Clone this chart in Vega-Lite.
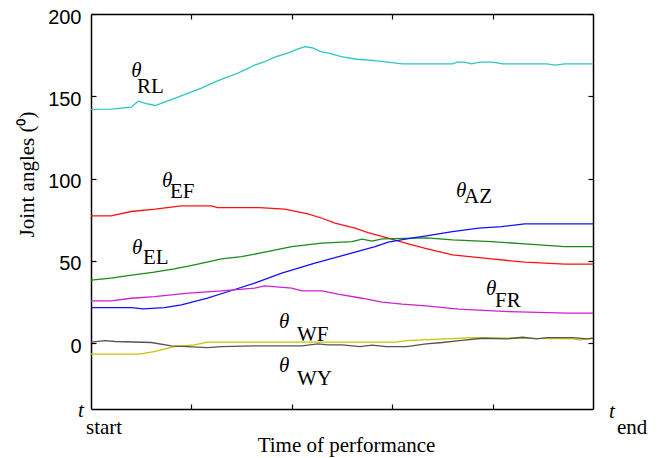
{
  "$schema": "https://vega.github.io/schema/vega-lite/v6.json",
  "width": 502,
  "height": 395,
  "autosize": "none",
  "padding": {"left": 91, "top": 14, "right": 69, "bottom": 49},
  "background": "white",
  "config": {
    "view": {"stroke": null},
    "axis": {"grid": false, "domainColor": "black", "domainWidth": 1.5, "tickColor": "black", "tickWidth": 1.2, "tickSize": -5}
  },
  "datasets": {
    "lines": [
      {"s": "RL", "x": 0, "y": 142}, {"s": "RL", "x": 0.2, "y": 142.2}, {"s": "RL", "x": 0.4, "y": 143.4}, {"s": "RL", "x": 0.47, "y": 147}, {"s": "RL", "x": 0.55, "y": 145.5}, {"s": "RL", "x": 0.64, "y": 144.4}, {"s": "RL", "x": 0.8, "y": 148}, {"s": "RL", "x": 0.97, "y": 151.9}, {"s": "RL", "x": 1.1, "y": 155}, {"s": "RL", "x": 1.23, "y": 158.6}, {"s": "RL", "x": 1.35, "y": 161.5}, {"s": "RL", "x": 1.46, "y": 164}, {"s": "RL", "x": 1.55, "y": 166.5}, {"s": "RL", "x": 1.63, "y": 169}, {"s": "RL", "x": 1.73, "y": 171}, {"s": "RL", "x": 1.83, "y": 173.8}, {"s": "RL", "x": 1.96, "y": 176.2}, {"s": "RL", "x": 2.05, "y": 178.5}, {"s": "RL", "x": 2.13, "y": 180.2}, {"s": "RL", "x": 2.2, "y": 179.5}, {"s": "RL", "x": 2.29, "y": 177.2}, {"s": "RL", "x": 2.4, "y": 175.8}, {"s": "RL", "x": 2.49, "y": 174.1}, {"s": "RL", "x": 2.65, "y": 172.5}, {"s": "RL", "x": 2.8, "y": 171.8}, {"s": "RL", "x": 2.91, "y": 171.1}, {"s": "RL", "x": 3.1, "y": 169.7}, {"s": "RL", "x": 3.6, "y": 169.7}, {"s": "RL", "x": 3.65, "y": 170.7}, {"s": "RL", "x": 3.72, "y": 170.7}, {"s": "RL", "x": 3.79, "y": 169.7}, {"s": "RL", "x": 3.87, "y": 170.7}, {"s": "RL", "x": 4.0, "y": 170.7}, {"s": "RL", "x": 4.1, "y": 169.7}, {"s": "RL", "x": 4.54, "y": 169.7}, {"s": "RL", "x": 4.62, "y": 168.9}, {"s": "RL", "x": 4.72, "y": 169.7}, {"s": "RL", "x": 5, "y": 169.7},
      {"s": "EF", "x": 0, "y": 77.3}, {"s": "EF", "x": 0.2, "y": 77.3}, {"s": "EF", "x": 0.4, "y": 80}, {"s": "EF", "x": 0.64, "y": 81.4}, {"s": "EF", "x": 0.9, "y": 83.4}, {"s": "EF", "x": 1.2, "y": 83.4}, {"s": "EF", "x": 1.26, "y": 82.4}, {"s": "EF", "x": 1.68, "y": 82.4}, {"s": "EF", "x": 1.93, "y": 81.4}, {"s": "EF", "x": 2.16, "y": 78.6}, {"s": "EF", "x": 2.3, "y": 75.9}, {"s": "EF", "x": 2.43, "y": 72.9}, {"s": "EF", "x": 2.63, "y": 69.9}, {"s": "EF", "x": 2.76, "y": 67.2}, {"s": "EF", "x": 2.96, "y": 63.8}, {"s": "EF", "x": 3.16, "y": 60.3}, {"s": "EF", "x": 3.35, "y": 57.3}, {"s": "EF", "x": 3.6, "y": 53.6}, {"s": "EF", "x": 3.99, "y": 51.2}, {"s": "EF", "x": 4.32, "y": 49.2}, {"s": "EF", "x": 4.72, "y": 48}, {"s": "EF", "x": 5, "y": 48},
      {"s": "EL", "x": 0, "y": 38.3}, {"s": "EL", "x": 0.2, "y": 39.5}, {"s": "EL", "x": 0.37, "y": 41.1}, {"s": "EL", "x": 0.63, "y": 43.1}, {"s": "EL", "x": 0.83, "y": 45.1}, {"s": "EL", "x": 1.03, "y": 47.6}, {"s": "EL", "x": 1.3, "y": 51.2}, {"s": "EL", "x": 1.5, "y": 52.6}, {"s": "EL", "x": 1.68, "y": 54.7}, {"s": "EL", "x": 2.0, "y": 58.7}, {"s": "EL", "x": 2.3, "y": 60.8}, {"s": "EL", "x": 2.6, "y": 61.7}, {"s": "EL", "x": 2.7, "y": 63.2}, {"s": "EL", "x": 2.8, "y": 62}, {"s": "EL", "x": 2.9, "y": 63.4}, {"s": "EL", "x": 3.34, "y": 64}, {"s": "EL", "x": 3.6, "y": 62.8}, {"s": "EL", "x": 3.99, "y": 61.7}, {"s": "EL", "x": 4.32, "y": 60.3}, {"s": "EL", "x": 4.72, "y": 58.7}, {"s": "EL", "x": 5, "y": 58.7},
      {"s": "AZ", "x": 0, "y": 21.6}, {"s": "AZ", "x": 0.4, "y": 21.6}, {"s": "AZ", "x": 0.52, "y": 20.8}, {"s": "AZ", "x": 0.73, "y": 21.6}, {"s": "AZ", "x": 0.9, "y": 23.3}, {"s": "AZ", "x": 1.16, "y": 27.3}, {"s": "AZ", "x": 1.4, "y": 32}, {"s": "AZ", "x": 1.63, "y": 36.5}, {"s": "AZ", "x": 1.9, "y": 42.5}, {"s": "AZ", "x": 2.23, "y": 48.6}, {"s": "AZ", "x": 2.63, "y": 55.3}, {"s": "AZ", "x": 2.83, "y": 58.7}, {"s": "AZ", "x": 2.96, "y": 61.4}, {"s": "AZ", "x": 3.19, "y": 63.8}, {"s": "AZ", "x": 3.34, "y": 65.2}, {"s": "AZ", "x": 3.6, "y": 67.8}, {"s": "AZ", "x": 3.86, "y": 69.9}, {"s": "AZ", "x": 4.09, "y": 70.8}, {"s": "AZ", "x": 4.32, "y": 72.5}, {"s": "AZ", "x": 5, "y": 72.5},
      {"s": "FR", "x": 0, "y": 25.7}, {"s": "FR", "x": 0.2, "y": 25.7}, {"s": "FR", "x": 0.4, "y": 27.3}, {"s": "FR", "x": 0.63, "y": 28.3}, {"s": "FR", "x": 0.97, "y": 30.4}, {"s": "FR", "x": 1.3, "y": 31.8}, {"s": "FR", "x": 1.63, "y": 33.4}, {"s": "FR", "x": 1.73, "y": 34.8}, {"s": "FR", "x": 2.0, "y": 33.4}, {"s": "FR", "x": 2.1, "y": 31.8}, {"s": "FR", "x": 2.3, "y": 31.8}, {"s": "FR", "x": 2.46, "y": 29.8}, {"s": "FR", "x": 2.7, "y": 27.3}, {"s": "FR", "x": 2.9, "y": 24.9}, {"s": "FR", "x": 3.1, "y": 23.7}, {"s": "FR", "x": 3.34, "y": 22.7}, {"s": "FR", "x": 3.66, "y": 20.7}, {"s": "FR", "x": 4.16, "y": 19.2}, {"s": "FR", "x": 4.75, "y": 18.2}, {"s": "FR", "x": 5, "y": 18.2},
      {"s": "WF", "x": 0, "y": -6.7}, {"s": "WF", "x": 0.48, "y": -6.7}, {"s": "WF", "x": 0.63, "y": -5.1}, {"s": "WF", "x": 0.83, "y": -2.1}, {"s": "WF", "x": 1.03, "y": -1}, {"s": "WF", "x": 1.16, "y": 0.6}, {"s": "WF", "x": 3.04, "y": 0.6}, {"s": "WF", "x": 3.14, "y": 1.6}, {"s": "WF", "x": 3.47, "y": 2.4}, {"s": "WF", "x": 3.8, "y": 3.4}, {"s": "WF", "x": 4.8, "y": 2.6}, {"s": "WF", "x": 4.87, "y": 2}, {"s": "WF", "x": 5, "y": 3},
      {"s": "WY", "x": 0, "y": 0.6}, {"s": "WY", "x": 0.14, "y": 1.6}, {"s": "WY", "x": 0.24, "y": 1}, {"s": "WY", "x": 0.6, "y": 0.4}, {"s": "WY", "x": 0.8, "y": -1.6}, {"s": "WY", "x": 0.96, "y": -2.1}, {"s": "WY", "x": 1.16, "y": -2.7}, {"s": "WY", "x": 1.3, "y": -2.1}, {"s": "WY", "x": 1.63, "y": -1.6}, {"s": "WY", "x": 2.1, "y": -1.6}, {"s": "WY", "x": 2.26, "y": -0.4}, {"s": "WY", "x": 2.36, "y": -1}, {"s": "WY", "x": 2.5, "y": -1}, {"s": "WY", "x": 2.68, "y": -2.1}, {"s": "WY", "x": 2.8, "y": -1.2}, {"s": "WY", "x": 2.94, "y": -2.1}, {"s": "WY", "x": 3.14, "y": -2.1}, {"s": "WY", "x": 3.34, "y": -0.4}, {"s": "WY", "x": 3.5, "y": 0.4}, {"s": "WY", "x": 3.67, "y": 1.6}, {"s": "WY", "x": 3.9, "y": 3}, {"s": "WY", "x": 4.14, "y": 2.6}, {"s": "WY", "x": 4.3, "y": 3.6}, {"s": "WY", "x": 4.44, "y": 2.6}, {"s": "WY", "x": 4.54, "y": 3.4}, {"s": "WY", "x": 4.8, "y": 3.4}, {"s": "WY", "x": 4.94, "y": 2.6}, {"s": "WY", "x": 5, "y": 3}
    ],
    "labels": [
      {"k": "i", "t": "θ", "x": 0.40, "y": 161.8}, {"k": "s", "t": "RL", "x": 0.458, "y": 152.1},
      {"k": "i", "t": "θ", "x": 0.707, "y": 95.0}, {"k": "s", "t": "EF", "x": 0.787, "y": 88.3},
      {"k": "i", "t": "θ", "x": 0.408, "y": 54.3}, {"k": "s", "t": "EL", "x": 0.518, "y": 48.2},
      {"k": "i", "t": "θ", "x": 3.635, "y": 88.9}, {"k": "s", "t": "AZ", "x": 3.715, "y": 85.2},
      {"k": "i", "t": "θ", "x": 3.934, "y": 29.3}, {"k": "s", "t": "FR", "x": 4.024, "y": 22.1},
      {"k": "i", "t": "θ", "x": 1.873, "y": 9.3}, {"k": "s", "t": "WF", "x": 2.052, "y": 1.4},
      {"k": "i", "t": "θ", "x": 1.873, "y": -17.4}, {"k": "s", "t": "WY", "x": 2.052, "y": -25.3},
      {"k": "i", "t": "t", "x": -0.129, "y": -44.8}, {"k": "s", "t": "start", "x": -0.05, "y": -55.1},
      {"k": "i", "t": "t", "x": 5.159, "y": -45.4}, {"k": "s", "t": "end", "x": 5.239, "y": -55.1}
    ]
  },
  "layer": [
    {
      "data": {"name": "lines"},
      "mark": {"type": "line", "strokeWidth": 1.3},
      "encoding": {
        "x": {"field": "x", "type": "quantitative", "scale": {"domain": [0, 5], "nice": false, "zero": false},
          "axis": {"orient": "bottom", "values": [1, 2, 3, 4], "labels": false, "title": "Time of performance", "titleFont": "Liberation Serif", "titleFontSize": 21, "titleFontWeight": "normal", "titleColor": "black", "titleX": 255, "titleY": 42, "titleAlign": "center", "titleBaseline": "alphabetic"}},
        "y": {"field": "y", "type": "quantitative", "scale": {"domain": [-40, 200], "nice": false, "zero": false},
          "axis": {"orient": "left", "values": [0, 50, 100, 150, 200], "labelFont": "Liberation Sans", "labelFontSize": 20, "labelColor": "black", "labelPadding": 15, "labelOffset": 3, "labelFlush": false, "title": "Joint angles (⁰)", "titleFont": "Liberation Serif", "titleFontSize": 21, "titleFontWeight": "normal", "titleColor": "black", "titleAngle": -90, "titleX": -64, "titleY": 160, "titleAlign": "center", "titleBaseline": "middle"}},
        "color": {"field": "s", "type": "nominal", "scale": {"domain": ["RL", "EF", "EL", "AZ", "FR", "WF", "WY"], "range": ["#2cc6c6", "#ff1010", "#1a8a1a", "#1010ff", "#cc22cc", "#c8c400", "#555555"]}, "legend": null}
      }
    },
    {
      "data": {"name": "labels"},
      "transform": [{"filter": "datum.k == 'i'"}],
      "mark": {"type": "text", "font": "Liberation Serif", "fontSize": 21, "fontStyle": "italic", "align": "left", "baseline": "alphabetic", "color": "black"},
      "encoding": {
        "x": {"field": "x", "type": "quantitative", "axis": {"orient": "top", "values": [1, 2, 3, 4], "labels": false, "title": null}},
        "y": {"field": "y", "type": "quantitative", "axis": {"orient": "right", "values": [0, 50, 100, 150, 200], "labels": false, "title": null}},
        "text": {"field": "t"}
      }
    },
    {
      "data": {"name": "labels"},
      "transform": [{"filter": "datum.k == 's'"}],
      "mark": {"type": "text", "font": "Liberation Serif", "fontSize": 21, "align": "left", "baseline": "alphabetic", "color": "black"},
      "encoding": {
        "x": {"field": "x", "type": "quantitative", "axis": null},
        "y": {"field": "y", "type": "quantitative", "axis": null},
        "text": {"field": "t"}
      }
    }
  ],
  "resolve": {"axis": {"x": "independent", "y": "independent"}}
}
